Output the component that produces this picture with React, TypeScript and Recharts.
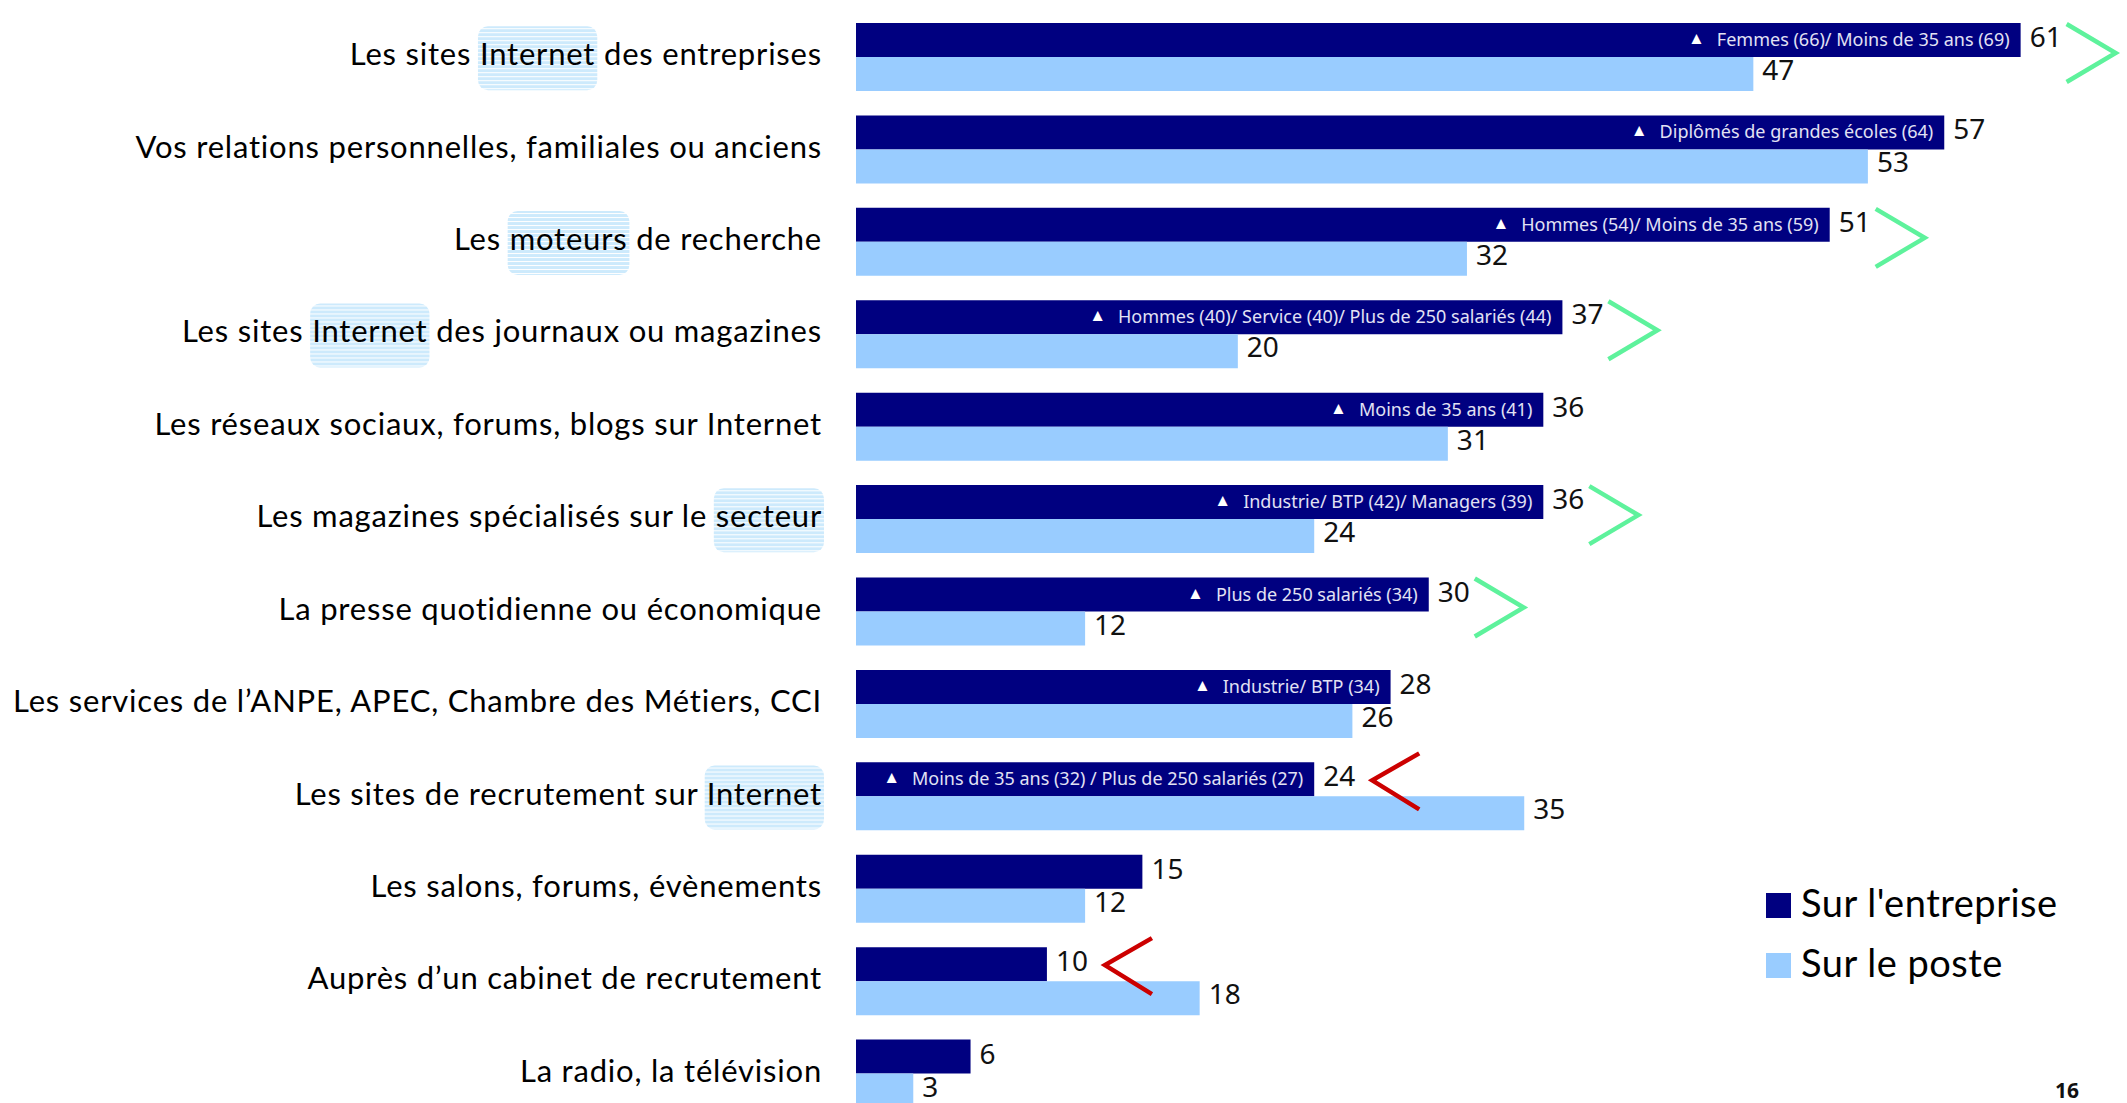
import React, { useLayoutEffect, useRef, useState } from 'react';
import { BarChart, Bar, XAxis, YAxis, Legend, LabelList } from 'recharts';

const categories = [
  'Les sites Internet des entreprises',
  'Vos relations personnelles, familiales ou anciens',
  'Les moteurs de recherche',
  'Les sites Internet des journaux ou magazines',
  'Les réseaux sociaux, forums, blogs sur Internet',
  'Les magazines spécialisés sur le secteur',
  'La presse quotidienne ou économique',
  'Les services de l\u2019ANPE, APEC, Chambre des Métiers, CCI',
  'Les sites de recrutement sur Internet',
  'Les salons, forums, évènements',
  'Auprès d\u2019un cabinet de recrutement',
  'La radio, la télévision',
];

const entreprise = [61, 57, 51, 37, 36, 36, 30, 28, 24, 15, 10, 6];
const poste = [47, 53, 32, 20, 31, 24, 12, 26, 35, 12, 18, 3];

// sous-populations au-dessus de la moyenne (barre "entreprise")
const notes = [
  'Femmes (66)/ Moins de 35 ans (69)',
  'Diplômés de grandes écoles (64)',
  'Hommes (54)/ Moins de 35 ans (59)',
  'Hommes (40)/ Service (40)/ Plus de 250 salariés (44)',
  'Moins de 35 ans (41)',
  'Industrie/ BTP (42)/ Managers (39)',
  'Plus de 250 salariés (34)',
  'Industrie/ BTP (34)',
  'Moins de 35 ans (32) / Plus de 250 salariés (27)',
  '',
  '',
  '',
];

// évolution : up = hausse (flèche verte), down = baisse (flèche rouge)
const trends = ['up', '', 'up', 'up', '', 'up', 'up', '', 'down', '', 'down', ''];

const highlights = ['Internet', '', 'moteurs', 'Internet', '', 'secteur', '', '', 'Internet', '', '', ''];

const seriesNames = ["Sur l'entreprise", 'Sur le poste'];

const data = categories.map((name, i) => ({
  name,
  entreprise: entreprise[i],
  poste: poste[i],
}));

const DARK = '#000080';
const LIGHT = '#99ccff';
const LABEL_RIGHT = 822;
const NUM_FONT = '"Noto Sans", sans-serif';
const TEXT_FONT = 'Lato, sans-serif';

const CategoryTick = (props: any) => {
  const { y, payload } = props;
  const label: string = payload.value;
  const idx = categories.indexOf(label);
  const word = highlights[idx] || '';
  const ref = useRef<SVGTextElement>(null);
  const [box, setBox] = useState<{ x0: number; x1: number } | null>(null);

  useLayoutEffect(() => {
    if (!word || !ref.current) return;
    const i = label.lastIndexOf(word);
    const el = ref.current;
    const x0 = el.getStartPositionOfChar(i).x;
    const x1 = el.getEndPositionOfChar(i + word.length - 1).x;
    setBox({ x0, x1 });
  }, [label, word]);

  return (
    <g transform={`translate(${LABEL_RIGHT},${y})`}>
      <defs>
        <pattern id={`stripes-${idx}`} width={8} height={4} patternUnits="userSpaceOnUse">
          <rect width={8} height={4} fill="#cdeafc" />
          <rect y={3} width={8} height={1} fill="#ffffff" />
        </pattern>
      </defs>
      {box && (
        <rect
          x={box.x0 - 2}
          y={-31}
          width={box.x1 - box.x0 + 4}
          height={64}
          rx={10}
          fill={`url(#stripes-${idx})`}
        />
      )}
      <text
        ref={ref}
        x={0}
        y={8}
        textAnchor="end"
        fontFamily={TEXT_FONT}
        fontSize={31}
        letterSpacing={0.8}
        fill="#000"
      >
        {label}
      </text>
    </g>
  );
};

const DarkLabel = (props: any) => {
  const vb = props.viewBox ?? props;
  const { x, y, width, height } = vb;
  const i = props.index;
  const cy = y + height / 2;
  const end = x + width;
  const note = notes[i];
  return (
    <g>
      {note && (
        <text x={end - 11} y={cy + 6} textAnchor="end" fontFamily={NUM_FONT} fontSize={18} fill="#e2e2f4">
          <tspan fill="#ffffff" fontSize={17} dy={-2}>▲</tspan>
          <tspan dx={12} dy={2}>{note}</tspan>
        </text>
      )}
      <text x={end + 9} y={cy + 7} fontFamily={NUM_FONT} fontSize={28} fill="#111">
        {props.value}
      </text>
    </g>
  );
};

const LightLabel = (props: any) => {
  const vb = props.viewBox ?? props;
  const { x, y, width, height } = vb;
  const i = props.index;
  const cy = y + height / 2;
  const unit = width / poste[i];
  const darkEnd = x + entreprise[i] * unit;
  const trend = trends[i];
  let arrow = null;
  if (trend === 'up') {
    const ty = y - 4;
    arrow = (
      <polyline
        points={`${darkEnd + 46},${ty - 29} ${darkEnd + 95},${ty} ${darkEnd + 46},${ty + 29}`}
        fill="none"
        stroke="#5ef29c"
        strokeWidth={4.5}
      />
    );
  } else if (trend === 'down') {
    const ty = y - 16;
    arrow = (
      <polyline
        points={`${darkEnd + 105},${ty - 27} ${darkEnd + 58},${ty} ${darkEnd + 105},${ty + 29}`}
        fill="none"
        stroke="#cc0000"
        strokeWidth={4.5}
      />
    );
  }
  return (
    <g>
      <text x={x + width + 9} y={cy + 6} fontFamily={NUM_FONT} fontSize={28} fill="#111">
        {props.value}
      </text>
      {arrow}
    </g>
  );
};

const renderLegend = () => (
  <svg width={340} height={120}>
    <rect x={0} y={13} width={25} height={25} fill={DARK} />
    <text x={35} y={37} fontFamily={TEXT_FONT} fontSize={38} letterSpacing={0.5} fill="#000">{seriesNames[0]}</text>
    <rect x={0} y={73} width={25} height={25} fill={LIGHT} />
    <text x={35} y={97} fontFamily={TEXT_FONT} fontSize={38} letterSpacing={0.5} fill="#000">{seriesNames[1]}</text>
  </svg>
);

export default function App() {
  return (
    <div
      style={{
        position: 'absolute',
        left: 0,
        top: 0,
        width: 2127,
        height: 1103,
        overflow: 'hidden',
        background: '#fff',
      }}
    >
      <BarChart
        width={2127}
        height={1120}
        data={data}
        layout="vertical"
        barGap={0}
        margin={{ top: 11, right: 30, bottom: 0, left: 0 }}
      >
        <XAxis type="number" domain={[0, 65]} hide />
        <YAxis
          type="category"
          dataKey="name"
          width={856}
          axisLine={false}
          tickLine={false}
          interval={0}
          tick={<CategoryTick />}
        />
        <Legend
          layout="vertical"
          align="center"
          verticalAlign="middle"
          content={renderLegend}
          wrapperStyle={{ left: 1766, top: 880, width: 340, height: 120 }}
        />
        <Bar dataKey="entreprise" name={seriesNames[0]} fill={DARK} barSize={34} isAnimationActive={false}>
          <LabelList dataKey="entreprise" content={<DarkLabel />} />
        </Bar>
        <Bar dataKey="poste" name={seriesNames[1]} fill={LIGHT} barSize={34} isAnimationActive={false}>
          <LabelList dataKey="poste" content={<LightLabel />} />
        </Bar>
      </BarChart>
      <div
        style={{
          position: 'absolute',
          left: 2055,
          top: 1076,
          fontFamily: NUM_FONT,
          fontWeight: 700,
          fontSize: 21,
          color: '#111',
        }}
      >
        16
      </div>
    </div>
  );
}
